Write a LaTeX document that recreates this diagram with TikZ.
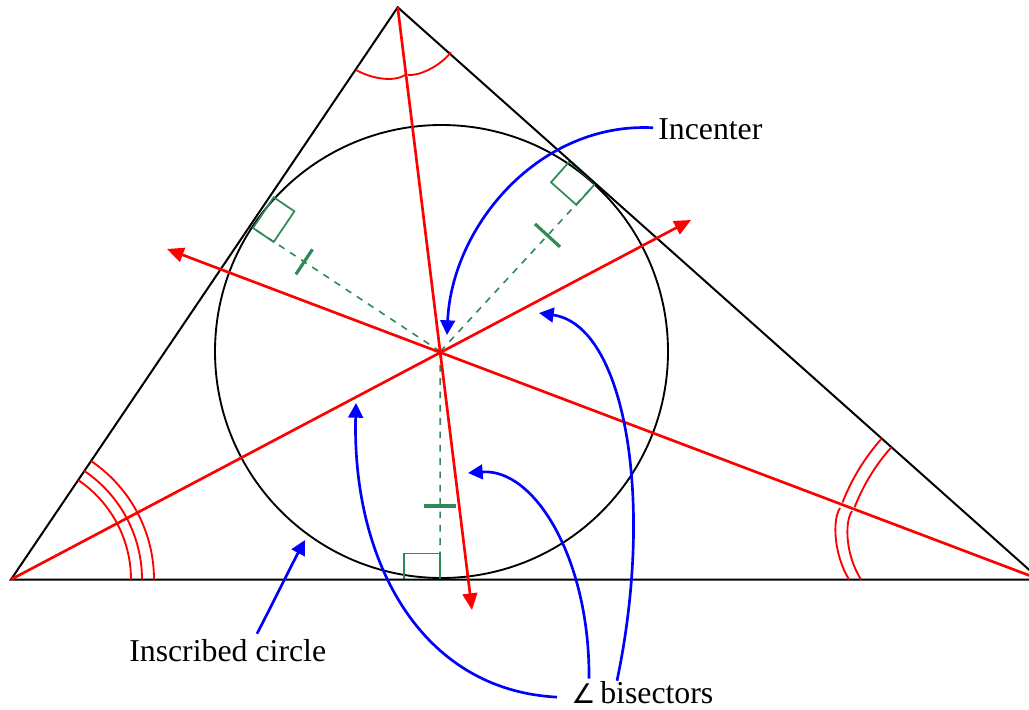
\documentclass[tikz,border=0pt]{standalone}
\usepackage{fontspec}
\setmainfont{Liberation Serif}
\newfontfamily\symf{DejaVu Sans}[Scale=0.85]
\usetikzlibrary{arrows.meta,calc}
\definecolor{mkgreen}{RGB}{46,139,87}
\begin{document}
\begin{tikzpicture}[x=0.75pt,y=-0.75pt,
  side/.style={black,line width=1.5pt},
  bisline/.style={red,line width=2pt,-{Triangle[length=12.5pt,width=11pt]}},
  anglemark/.style={red,line width=1.4pt},
  rightmark/.style={mkgreen,line width=1.3pt},
  radial/.style={mkgreen,line width=1.2pt,dash pattern=on 5pt off 5pt},
  eqtick/.style={mkgreen,line width=2.4pt},
  pointer/.style={blue,line width=2pt,-{Triangle[length=11pt,width=11pt]}},
  lbl/.style={inner sep=0pt,font=\fontsize{23.85}{28}\selectfont}
]
\useasboundingbox (0,0) rectangle (1029,710);
\clip (0,0) rectangle (1029,710);

% vertices, incenter, circle centre
\coordinate (A) at (11,579.5);
\coordinate (B) at (1040,579.5);
\coordinate (C) at (397.7,7.3);
\coordinate (I) at (440.3,351.5);
\coordinate (O) at (441.5,351.5);
% tangent feet
\coordinate (F1) at (440,579.5);
\coordinate (F2) at (253,228);
\coordinate (F3) at (595,184);
% bisector ends
\coordinate (eA) at (691,220);
\coordinate (eB) at (167,249);
\coordinate (eC) at (472,610);
% pointer tips
\coordinate (tInc) at (447,335);
\coordinate (tCirc) at (305,540);
\coordinate (tBa) at (356,403);
\coordinate (tBb) at (468,473);
\coordinate (tBc) at (539,313);

% inscribed circle
\draw[black,line width=1.4pt] (O) circle[radius=226.5];

% green radii, right-angle marks, equal ticks
\draw[radial] (I) -- (F1);
\draw[radial] (I) -- (F2);
\draw[radial] (I) -- (F3);
\draw[rightmark] (404,579.5) rectangle (440,553.5);
\draw[rightmark] (F2) -- (273.7,197.3) -- (294.4,211.3) -- (273.7,242) -- cycle;
\draw[rightmark] (F3) -- (569.6,161.4) -- (551,182.3) -- (576.4,204.9) -- cycle;
\draw[eqtick] (424,506) -- (456,506);
\draw[eqtick] (312.5,249.3) -- (295.9,274.3);
\draw[eqtick] (535,223.9) -- (560,246.9);

% triangle
\draw[side] (A) -- (B) -- (C) -- cycle;

% angle marks at A
\foreach \r in {120,131,143} {
  \draw[anglemark] (A) ++(-55.95:\r) arc[start angle=-55.95,end angle=-28.3,radius=\r];
  \draw[anglemark] (A) ++(-27.6:\r) arc[start angle=-27.6,end angle=0,radius=\r];
}
% angle marks at B
\foreach \r in {212,199} {
  \draw[anglemark] (B) ++(221.7:\r) arc[start angle=221.7,end angle=201.3,radius=\r];
}
\draw[anglemark] (840,508) .. controls (832,520) and (834,555) .. (849,579.5);
\draw[anglemark] (852,511) .. controls (844,523) and (846,556) .. (861,579.5);
% angle mark at C
\draw[anglemark] (356,70) .. controls (372,79) and (396,83) .. (407,73.5);
\draw[anglemark] (408,75) .. controls (418,76) and (438,68) .. (451,52.3);

% angle bisectors
\draw[bisline] (A) -- (eA);
\draw[bisline] (B) -- (eB);
\draw[bisline] (C) -- (eC);

% labels
\node[lbl,anchor=base west] (inc) at (658,140) {Incenter};
\node[lbl,anchor=base west] (ins) at (129,661) {Inscribed circle};
\node[lbl,anchor=base west] (bis) at (571,703) {\makebox[21.75pt][l]{\symf ∠}bisectors};

% pointers
\draw[pointer] ($(inc.west)+(-5,-2)$) .. controls (540,122) and (452,225) .. (tInc);
\draw[pointer] ($(ins.north west)+(128,-5)$) .. controls (272,605) and (290,568) .. (tCirc);
\draw[pointer] ($(bis.west)+(-14,5)$) .. controls (420,690) and (352,560) .. (tBa);
\draw[pointer] ($(bis.north west)+(18,-2)$) .. controls (590,560) and (535,468) .. (tBb);
\draw[pointer] ($(bis.north west)+(46,0)$) .. controls (655,500) and (625,325) .. (tBc);
\end{tikzpicture}
\end{document}
